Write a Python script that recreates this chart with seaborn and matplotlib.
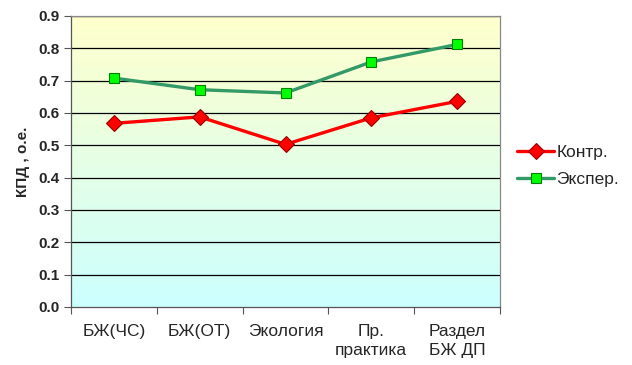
import numpy as np
import pandas as pd
import matplotlib
matplotlib.use('Agg')
import matplotlib.pyplot as plt
import seaborn as sns

# data
categories = ['БЖ(ЧС)', 'БЖ(ОТ)', 'Экология', 'Пр.\nпрактика', 'Раздел\nБЖ ДП']
kontr = [0.568, 0.588, 0.503, 0.585, 0.636]
eksper = [0.708, 0.672, 0.662, 0.758, 0.812]
yticks = [0.0, 0.1, 0.2, 0.3, 0.4, 0.5, 0.6, 0.7, 0.8, 0.9]

sns.set_style('white')
plt.rcParams['font.family'] = ['Liberation Sans', 'DejaVu Sans']

df = pd.DataFrame({
    'x': list(range(len(categories))) * 2,
    'value': kontr + eksper,
    'series': ['Контр.'] * len(kontr) + ['Экспер.'] * len(eksper),
})

fig = plt.figure(figsize=(6.32, 3.65), dpi=100)
ax = fig.add_axes([71 / 632, 1 - 307 / 365, 429 / 632, 291 / 365])

# background gradient: yellow at top to light cyan at bottom
top = np.array([1.0, 1.0, 0.8])
bottom = np.array([0.8, 1.0, 1.0])
t = np.linspace(0, 1, 256)[:, None]
grad = (top * (1 - t) + bottom * t)[:, None, :]
ax.imshow(grad, extent=[-0.5, 4.5, 0, 0.9], aspect='auto', zorder=0)

for y in yticks[1:]:
    ax.axhline(y, color='black', lw=0.9, zorder=1)

sns.lineplot(data=df[df.series == 'Контр.'], x='x', y='value', ax=ax,
             color='#ff0000', lw=2.4, marker='D', markersize=8,
             markerfacecolor='#ff0000', markeredgecolor='#990000',
             markeredgewidth=0.8, label='Контр.', zorder=3)
sns.lineplot(data=df[df.series == 'Экспер.'], x='x', y='value', ax=ax,
             color='#339966', lw=2.4, marker='s', markersize=7,
             markerfacecolor='#00ff00', markeredgecolor='#008000',
             markeredgewidth=0.8, label='Экспер.', zorder=3)

ax.set_xlim(-0.5, 4.5)
ax.set_ylim(0, 0.9)
ax.set_yticks(yticks)
ax.set_yticklabels([f'{v:.1f}' for v in yticks], fontweight='bold', fontsize=11)
ax.set_xticks(range(len(categories)))
ax.set_xticklabels(categories, fontsize=12.5, linespacing=1.4)
ax.set_xticks(np.arange(-0.5, 5, 1), minor=True)
ax.tick_params(axis='x', which='major', length=0, pad=12)
ax.tick_params(axis='x', which='minor', bottom=True, length=5, width=0.8,
               color='#555555', direction='out')
ax.tick_params(axis='y', left=True, length=5, width=0.8, color='#555555',
               direction='out', pad=3)
ax.set_xlabel('')
ax.set_ylabel('КПД , о.е.', fontweight='bold', fontsize=11, labelpad=6)

for side in ['left', 'bottom']:
    ax.spines[side].set_color('#555555')
    ax.spines[side].set_linewidth(0.9)
for side in ['top', 'right']:
    ax.spines[side].set_color('#888888')
    ax.spines[side].set_linewidth(0.9)

leg = ax.legend(loc='center left', bbox_to_anchor=(446 / 429, 0.485), frameon=False,
                fontsize=12.5, handlelength=2.15, labelspacing=0.72,
                handletextpad=0.12, borderpad=0, borderaxespad=0)

fig.savefig('out.png', dpi=100)
